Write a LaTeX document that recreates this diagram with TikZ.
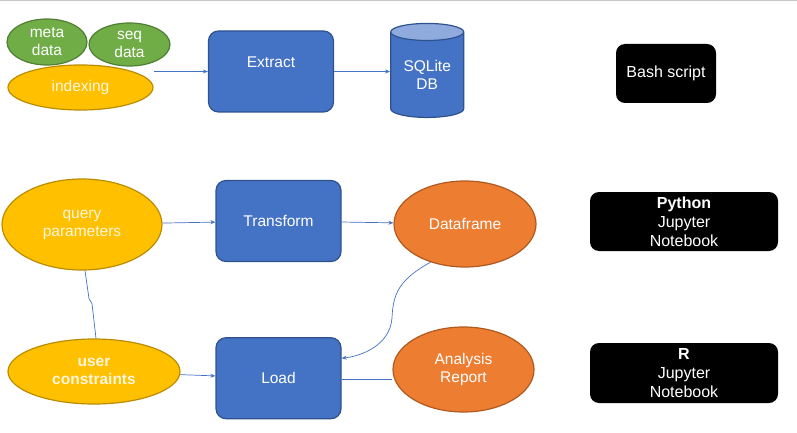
\documentclass[tikz,border=0pt]{standalone}
\usepackage{fontspec}
\setmainfont{Liberation Sans}
\usetikzlibrary{arrows.meta,positioning,shapes.geometric}

\definecolor{accblue}{HTML}{4472C4}
\definecolor{blueline}{HTML}{2F528F}
\definecolor{paleblue}{HTML}{8FAADC}
\definecolor{accyellow}{HTML}{FFC000}
\definecolor{yellowline}{HTML}{BC8C00}
\definecolor{accgreen}{HTML}{70AD47}
\definecolor{greenline}{HTML}{507E32}
\definecolor{accorange}{HTML}{ED7D31}
\definecolor{orangeline}{HTML}{AE5A21}
\definecolor{cream}{HTML}{FFF6DE}

\begin{document}
\begin{tikzpicture}[x=1pt,y=-1pt,
  font=\fontsize{15.5}{18}\selectfont,
  stage/.style={rounded corners=10pt,draw=blueline,line width=1.2pt,fill=accblue,
    text=white,minimum width=125pt,minimum height=81pt,align=center,inner sep=0pt},
  blob/.style={ellipse,line width=1.2pt,inner sep=0pt,align=center,text=white},
  input/.style={blob,fill=accyellow,draw=yellowline,text=cream},
  rawdata/.style={blob,fill=accgreen,draw=greenline},
  result/.style={blob,fill=accorange,draw=orangeline},
  tool/.style={rounded corners=9pt,fill=black,text=white,minimum height=59pt,
    align=center,inner sep=0pt,font=\fontsize{16}{19}\selectfont},
  flow/.style={-{Stealth[length=5pt,width=4pt]},draw=accblue,line width=.7pt},
  link/.style={draw=accblue,line width=.7pt}
]
\useasboundingbox (0,0) rectangle (797,433);
\draw[black!22,line width=1.5pt] (0,0.75) -- (797,0.75);

% extract stage
\node[rawdata,minimum width=80pt,minimum height=46pt] (meta) at (47,42) {meta\\data};
\node[rawdata,minimum width=81pt,minimum height=43pt] (seq) at (129.5,44.5) {seq\\data};
\node[input,minimum width=145pt,minimum height=45pt] (indexing) at (80.5,87.5) {indexing};
\node[stage] (extract) at (271,71.5) {Extract\\\mbox{}};
\node[cylinder,shape border rotate=90,aspect=.36,draw=blueline,line width=1.2pt,
  cylinder uses custom fill,cylinder body fill=accblue,cylinder end fill=paleblue,
  minimum width=73pt,minimum height=94pt,inner sep=0pt,align=center,text=white,
  right=56pt of extract,yshift=-3.5pt] (sqlite) {SQLite\\DB};

% tools
\node[tool,minimum width=100pt] (bash) at (666,73.5) {Bash script};
\node[tool,minimum width=188pt] (python) at (684,221.5) {\textbf{Python}\\Jupyter\\Notebook};
\node[tool,minimum width=188pt,minimum height=60pt] (rlang) at (684,373) {\textbf{R}\\Jupyter\\Notebook};

% transform / load
\node[input,minimum width=160pt,minimum height=91pt] (query) at (82,224.5) {query\\parameters};
\node[stage] (transform) at (278.5,221) {Transform};
\node[result,minimum width=142pt,minimum height=86pt] (dataframe) at (465,224) {Dataframe};
\node[input,minimum width=172pt,minimum height=65pt] (user) at (94,371.5) {\textbf{user}\\\textbf{constraints}};
\node[stage,below=75pt of transform,xshift=0pt] (load) {Load};
\node[result,minimum width=141pt,minimum height=85pt] (report) at (463.5,369.5) {Analysis\\Report};

\coordinate (feed) at (indexing.east |- extract.west);
\draw[flow] (feed) -- (extract.west);
\draw[flow] (extract.east) -- (sqlite.west |- extract.east);
\draw[flow] (query) -- (transform);
\draw[flow] (transform) -- (dataframe);
\draw[flow] (user) -- (load);
\draw[link] ([yshift=-10pt]report.west) -- ([yshift=-10pt]report.west -| load.east);
\draw[flow] (dataframe.228) .. controls (398,280) and (393,295) .. (392,318)
  .. controls (390,345) and (362,356) .. ([yshift=20pt]load.east);
\draw[link] ([xshift=3pt]query.south) -- ++(4,28) -- ++(3,5) -- ([xshift=2pt]user.north);
\end{tikzpicture}
\end{document}
